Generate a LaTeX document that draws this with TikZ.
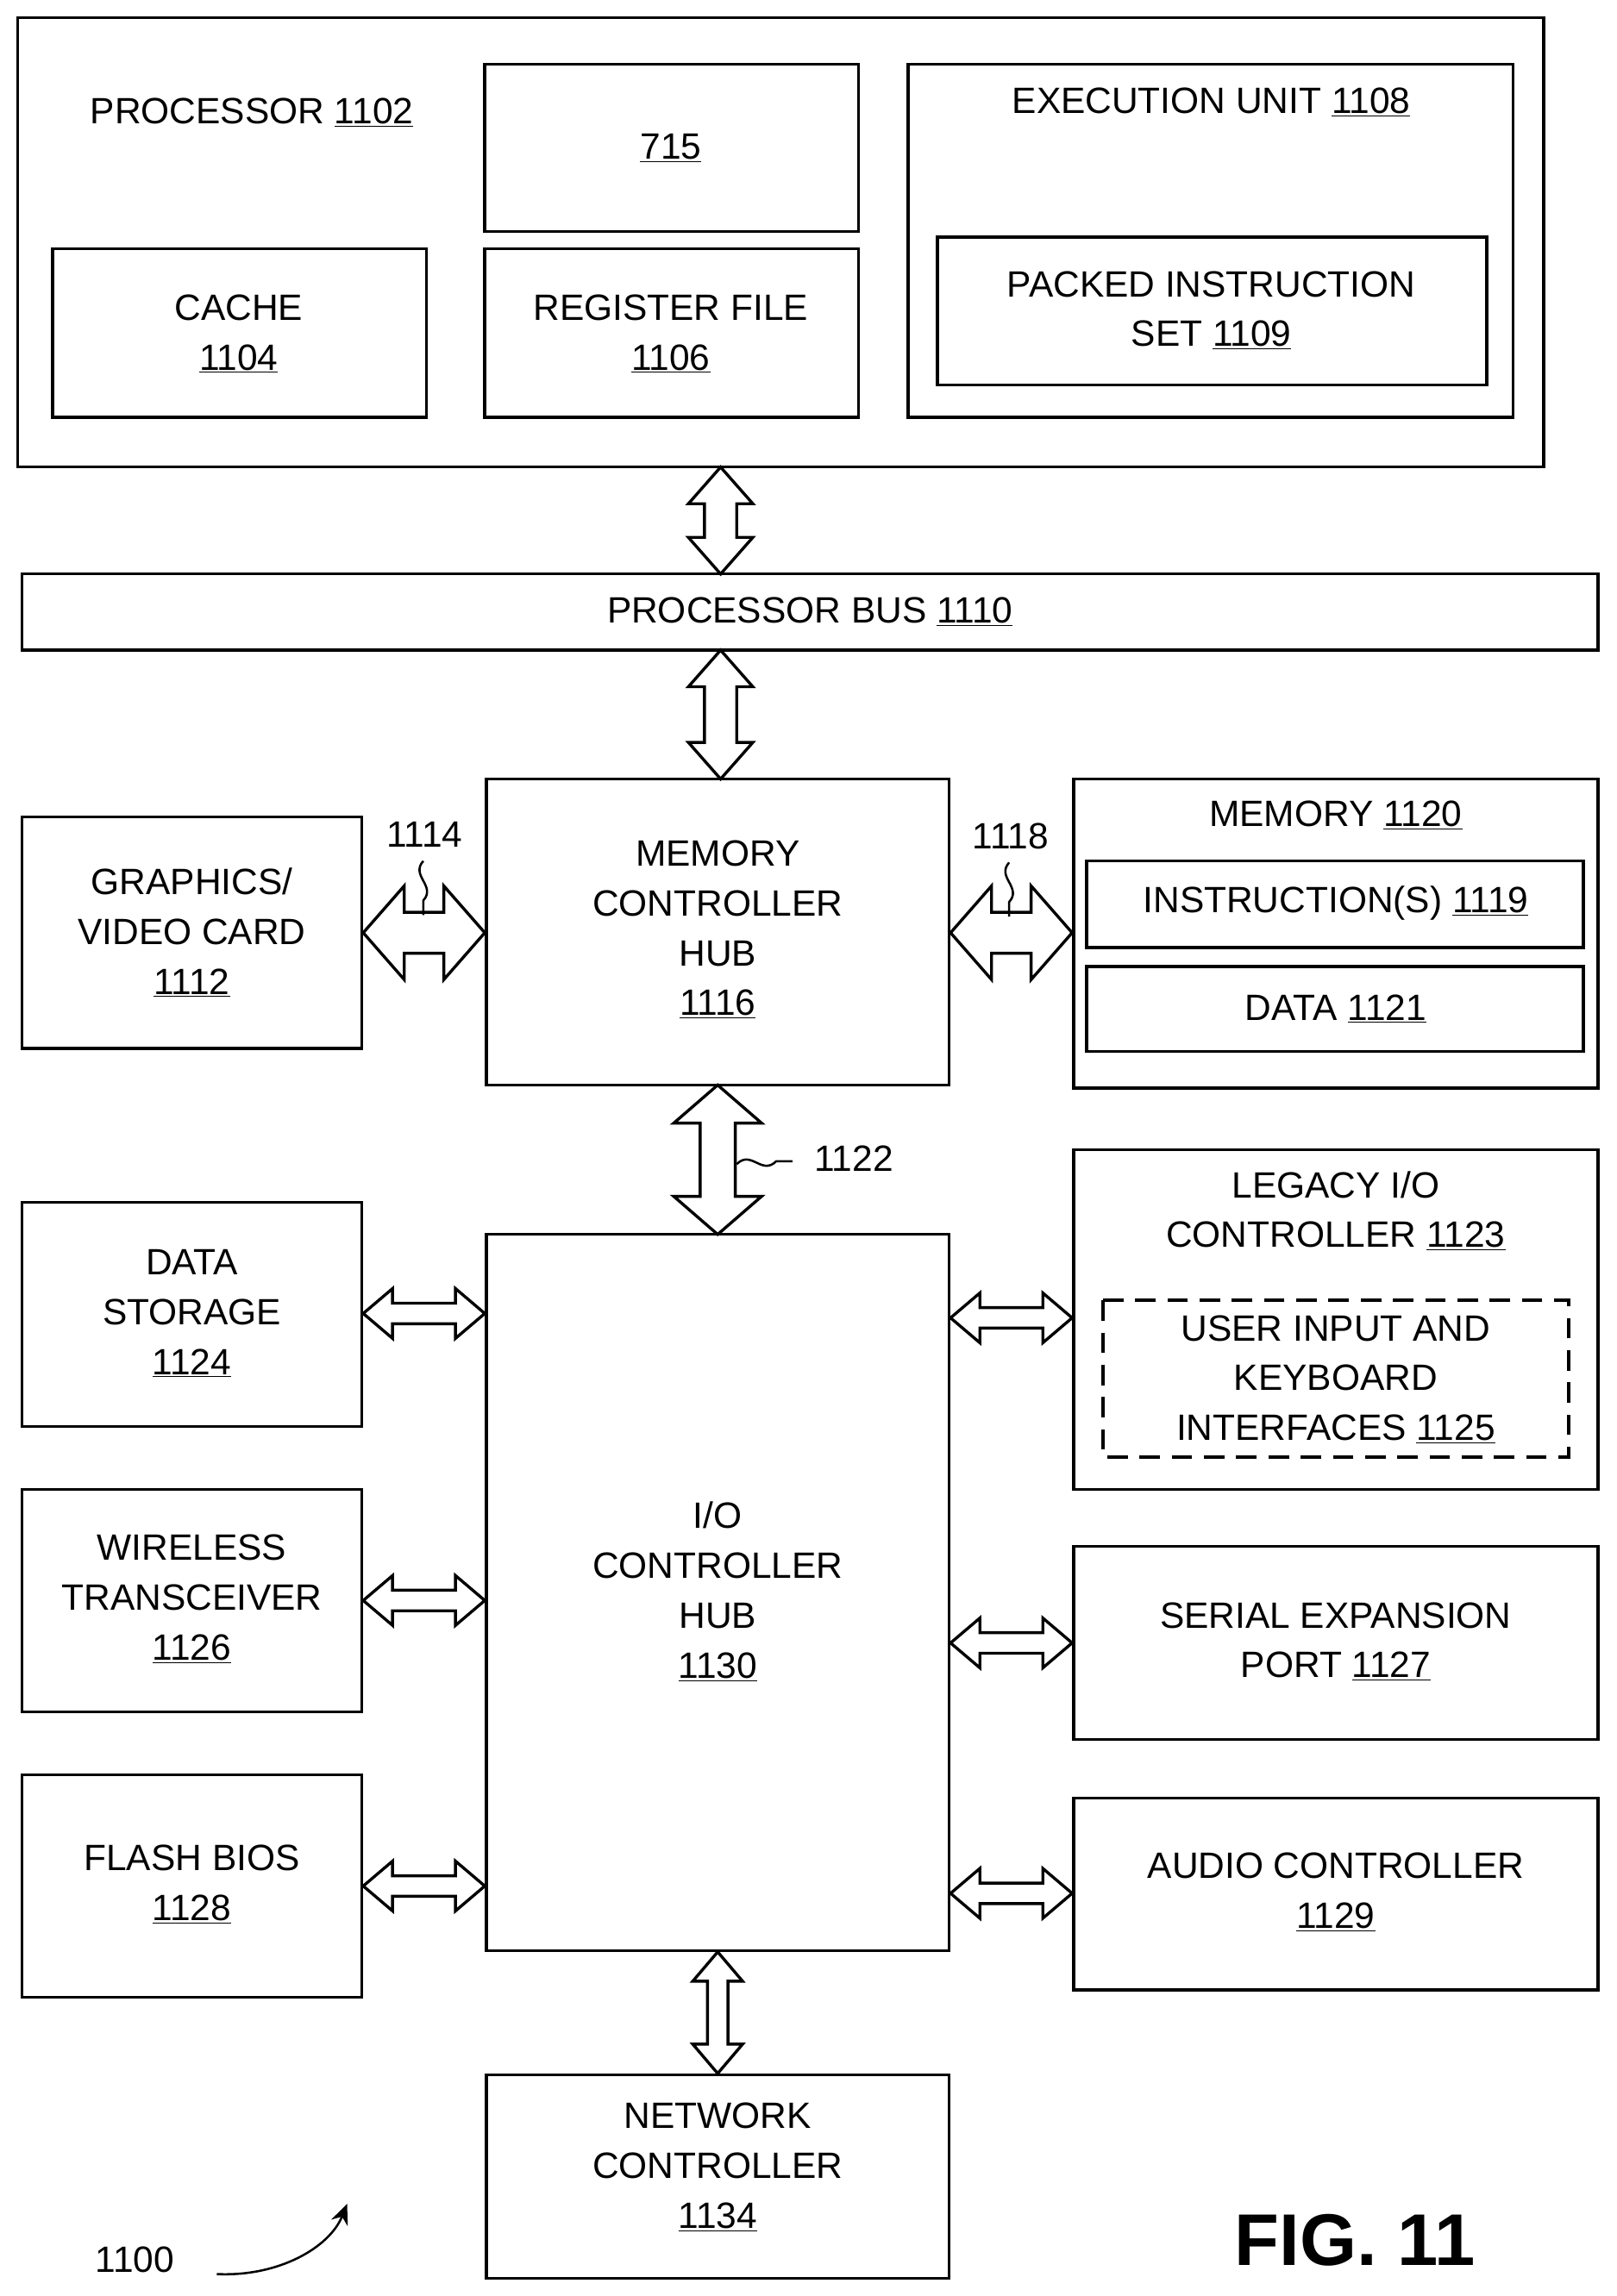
\documentclass[tikz,border=0pt]{standalone}
\usetikzlibrary{arrows.meta}
\usepackage{fontspec}
\setmainfont{Liberation Sans}
\newcommand{\un}[1]{\underline{#1}}
\newcommand{\harr}[6]{\draw[arr] (#1,#3) -- (#1+#6,#3-#5) -- (#1+#6,#3-#4) -- (#2-#6,#3-#4) -- (#2-#6,#3-#5) -- (#2,#3) -- (#2-#6,#3+#5) -- (#2-#6,#3+#4) -- (#1+#6,#3+#4) -- (#1+#6,#3+#5) -- cycle;}
\newcommand{\varr}[6]{\draw[arr] (#3,#1) -- (#3-#5,#1+#6) -- (#3-#4,#1+#6) -- (#3-#4,#2-#6) -- (#3-#5,#2-#6) -- (#3,#2) -- (#3+#5,#2-#6) -- (#3+#4,#2-#6) -- (#3+#4,#1+#6) -- (#3+#5,#1+#6) -- cycle;}
\begin{document}
\begin{tikzpicture}[x=1pt,y=-1pt,
  box/.style={draw,line width=2pt},
  arr/.style={draw,line width=2pt,fill=white,line join=miter},
  t/.style={font=\fontsize{25}{34}\selectfont,align=center,inner sep=0pt}]
\useasboundingbox[fill=white] (0,0) rectangle (1104,1568);
% processor
\draw[box] (12,12) rectangle (1054,319);
\node[t] (p) at (172,77) {PROCESSOR \un{1102}};
\draw[box] (331,44) rectangle (586,158); \node[t] (a) at (458,101) {\un{715}};
\draw[box] (36,170) rectangle (291,285); \node[t] (c) at (163,228) {CACHE\\\un{1104}};
\draw[box] (331,170) rectangle (586,285); \node[t] (r) at (458,228) {REGISTER FILE\\\un{1106}};
\draw[box] (620,44) rectangle (1033,285); \node[t] (e) at (827,70) {EXECUTION UNIT \un{1108}};
\draw[box] (640,162) rectangle (1015,263); \node[t] (pk) at (827,212) {PACKED INSTRUCTION\\SET \un{1109}};
% bus
\draw[box] (15,392) rectangle (1091,444); \node[t] (b) at (553,418) {PROCESSOR BUS \un{1110}};
\varr{319}{392}{492}{11}{22}{25}
\varr{444}{532}{492}{11}{22}{25}
% MCH
\draw[box] (332,532) rectangle (648,741); \node[t] (m) at (490,635) {MEMORY\\CONTROLLER\\HUB\\\un{1116}};
\draw[box] (15,558) rectangle (247,716); \node[t] (g) at (131,637) {GRAPHICS/\\VIDEO CARD\\\un{1112}};
\draw[box] (733,532) rectangle (1091,743); \node[t] (mem) at (912,557) {MEMORY \un{1120}};
\draw[box] (742,588) rectangle (1081,647); \node[t] (ins) at (912,617) {INSTRUCTION(S) \un{1119}};
\draw[box] (742,660) rectangle (1081,718); \node[t] (d) at (912,689) {DATA \un{1121}};
\harr{248}{331}{637}{14}{32}{28}
\harr{649}{732}{637}{14}{32}{28}
\varr{741}{843}{490}{12}{30}{26}
\node[t] (l1114) at (290,570) {1114};
\node[t] (l1118) at (690,571) {1118};
\node[t] (l1122) at (583,791) {1122};
\draw[line width=1.5pt] (289,588) .. controls (280,598) and (298,605) .. (289,615) -- (289,625);
\draw[line width=1.5pt] (689,589) .. controls (680,599) and (698,606) .. (689,616) -- (689,626);
\draw[line width=1.5pt] (503,795) .. controls (513,785) and (520,803) .. (530,793) -- (541,793);
% ICH
\draw[box] (332,843) rectangle (648,1332); \node[t] (ich) at (490,1087) {I/O\\CONTROLLER\\HUB\\\un{1130}};
\draw[box] (15,821) rectangle (247,974); \node[t] (ds) at (131,897) {DATA\\STORAGE\\\un{1124}};
\draw[box] (15,1017) rectangle (247,1169); \node[t] (w) at (131,1092) {WIRELESS\\TRANSCEIVER\\\un{1126}};
\draw[box] (15,1212) rectangle (247,1364); \node[t] (f) at (131,1287) {FLASH BIOS\\\un{1128}};
\draw[box] (733,785) rectangle (1091,1017); \node[t] (lg) at (912,827) {LEGACY I/O\\CONTROLLER \un{1123}};
\draw[line width=2pt,dash pattern=on 14pt off 8pt] (753,888) rectangle (1071,995);
\node[t] (ui) at (912,942) {USER INPUT AND\\KEYBOARD\\INTERFACES \un{1125}};
\draw[box] (733,1056) rectangle (1091,1188); \node[t] (se) at (912,1121) {SERIAL EXPANSION\\PORT \un{1127}};
\draw[box] (733,1228) rectangle (1091,1359); \node[t] (au) at (912,1292) {AUDIO CONTROLLER\\\un{1129}};
\harr{248}{331}{897}{7}{17}{20}
\harr{248}{331}{1093}{7}{17}{20}
\harr{248}{331}{1288}{7}{17}{20}
\harr{649}{732}{900}{7}{17}{20}
\harr{649}{732}{1122}{7}{17}{20}
\harr{649}{732}{1293}{7}{17}{20}
\varr{1333}{1416}{490}{7}{17}{20}
\draw[box] (332,1417) rectangle (648,1556); \node[t] (n) at (490,1480) {NETWORK\\CONTROLLER\\\un{1134}};
\node[t] (l1100) at (92,1543) {1100};
\node[font=\fontsize{50}{50}\selectfont\bfseries,inner sep=0pt] (fig) at (925,1530) {FIG. 11};
\draw[line width=1.5pt,-{Stealth[length=14pt,width=12pt]}] (148,1553) .. controls (190,1555) and (225,1535) .. (237,1505);
\end{tikzpicture}
\end{document}
